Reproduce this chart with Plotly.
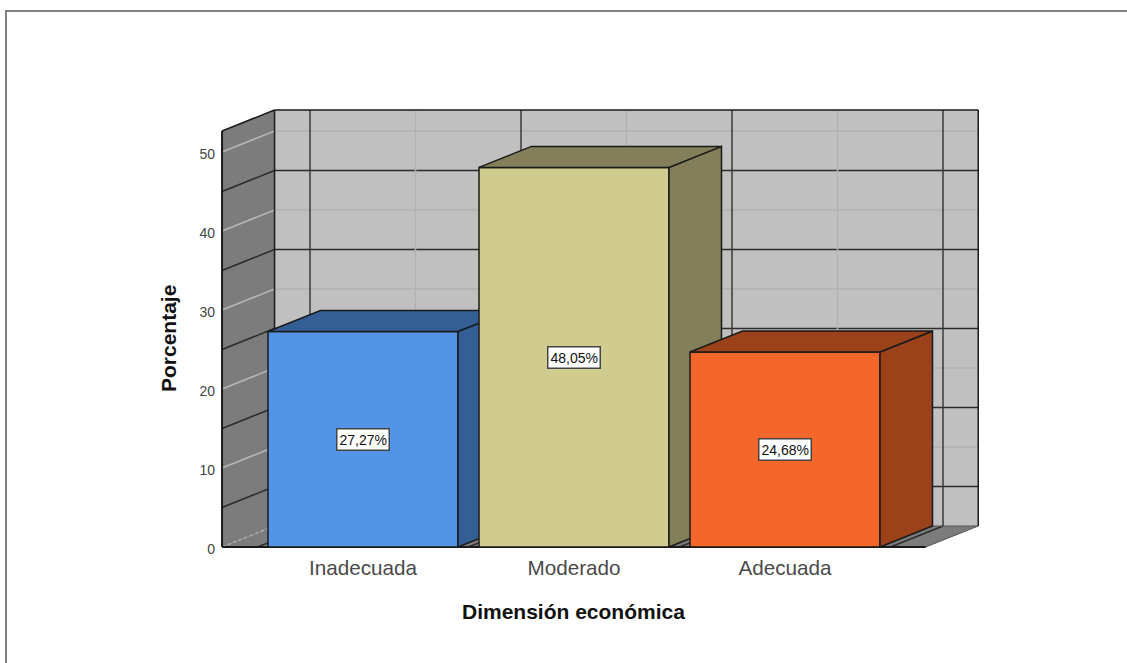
import plotly.graph_objects as go

categories = ["Inadecuada", "Moderado", "Adecuada"]
percentages = [27.27, 48.05, 24.68]
value_labels = ["27,27%", "48,05%", "24,68%"]
y_ticks = [0, 10, 20, 30, 40, 50]
front_colors = ["#5394E6", "#D0CB8F", "#F4672A"]
side_colors = ["#345F95", "#827F5A", "#9B421A"]

FONT = "Liberation Sans"
W, H = 1127, 663
L, R, T, B = 216, 984, 104, 553
X0_PX, X_UNIT = 363, 211
Y0_PX, Y_UNIT = 547, 7.9
DX, DY = 52.5 / X_UNIT, 21 / Y_UNIT
BAR_W = 190 / X_UNIT
X_MIN, X_MAX, Y_TOP = -0.668, 2.667, 52.66
DARK, EDGE = "#2b2b2b", "#1a1a1a"

xr = [(L - X0_PX) / X_UNIT, (R - X0_PX) / X_UNIT]
yr = [(Y0_PX - B) / Y_UNIT, (Y0_PX - T) / Y_UNIT]
shapes = []


def poly(xs, ys, fill):
    path = "M" + "L".join(f"{a},{b}" for a, b in zip(xs, ys)) + "Z"
    shapes.append(dict(type="path", path=path, xref="x", yref="y", fillcolor=fill,
                       line=dict(width=0), layer="below"))


def seg(x0, y0, x1, y1, color=DARK, width=1.5, dash="solid"):
    shapes.append(dict(type="line", x0=x0, y0=y0, x1=x1, y1=y1, xref="x", yref="y",
                       line=dict(color=color, width=width, dash=dash), layer="below"))


# walls and floor
poly([X_MIN + DX, X_MAX + DX, X_MAX + DX, X_MIN + DX], [DY, DY, Y_TOP + DY, Y_TOP + DY], "#C0C0C0")
poly([X_MIN, X_MIN + DX, X_MIN + DX, X_MIN], [0, DY, Y_TOP + DY, Y_TOP], "#7C7C7C")
poly([X_MIN, X_MAX, X_MAX + DX, X_MIN + DX], [0, 0, DY, DY], "#7C7C7C")

# value levels on the walls: light at the labelled ticks, dark half way between
for i in range(0, 11):
    v = i * 5
    major = i % 2 == 0
    back_col = "#B2B2B2" if major else DARK
    side_col = "#B8B8B8" if major else DARK
    if i > 0:
        seg(X_MIN + DX, v + DY, X_MAX + DX, v + DY, back_col, 1.5)
        seg(X_MIN, v, X_MIN + DX, v + DY, side_col, 1.5)
seg(X_MIN, 0, X_MIN + DX, DY, "#B8B8B8", 1.2, "dot")

# verticals on the back wall, continued over the floor
for c in range(3):
    seg(c + DX, DY, c + DX, Y_TOP + DY, "#B2B2B2", 1.5)
for c in range(4):
    b = c - 0.5
    seg(b + DX, DY, b + DX, Y_TOP + DY, "#3a3a3a", 1.5)
    seg(b, 0, b + DX, DY, DARK, 1.5)

# wall outlines
seg(X_MIN + DX, Y_TOP + DY, X_MAX + DX, Y_TOP + DY, EDGE, 1.5)
seg(X_MAX + DX, DY, X_MAX + DX, Y_TOP + DY, EDGE, 1.5)
seg(X_MIN + DX, DY, X_MIN + DX, Y_TOP + DY, EDGE, 1.5)
seg(X_MIN, 0, X_MIN, Y_TOP, EDGE, 2)
seg(X_MIN, Y_TOP, X_MIN + DX, Y_TOP + DY, EDGE, 1.5)
seg(X_MIN, 0, X_MAX, 0, EDGE, 2)
seg(X_MAX, 0, X_MAX + DX, DY, "#555555", 1)
seg(X_MIN + DX, DY, X_MAX + DX, DY, "#555555", 1)

# page frame
shapes.append(dict(type="line", xref="paper", yref="paper", x0=(6 - L) / (R - L), x1=(W - L) / (R - L),
                   y0=(B - 11) / (B - T), y1=(B - 11) / (B - T), line=dict(color="#808080", width=2)))
shapes.append(dict(type="line", xref="paper", yref="paper", x0=(6 - L) / (R - L), x1=(6 - L) / (R - L),
                   y0=(B - 10) / (B - T), y1=(B - H) / (B - T), line=dict(color="#808080", width=2)))

fig = go.Figure()
annotations = []
for i, (cat, v) in enumerate(zip(categories, percentages)):
    fig.add_trace(go.Bar(x=[i], y=[v], width=BAR_W, name=cat, zorder=i + 1,
                         marker=dict(color=front_colors[i], line=dict(color=EDGE, width=1.5))))
    lo, hi = i - BAR_W / 2, i + BAR_W / 2
    fig.add_trace(go.Scatter(x=[hi, hi + DX, hi + DX, hi, hi], y=[0, DY, v + DY, v, 0],
                             mode="lines", fill="toself", fillcolor=side_colors[i], zorder=i + 1,
                             line=dict(color=EDGE, width=1.5), hoverinfo="skip"))
    fig.add_trace(go.Scatter(x=[lo, lo + DX, hi + DX, hi, lo], y=[v, v + DY, v + DY, v, v],
                             mode="lines", fill="toself", fillcolor=side_colors[i], zorder=i + 1,
                             line=dict(color=EDGE, width=1.5), hoverinfo="skip"))
    annotations.append(dict(x=i, y=v / 2, xref="x", yref="y", text=value_labels[i], showarrow=False,
                            font=dict(family=FONT, size=14, color="#111111"), bgcolor="white",
                            bordercolor="#444444", borderwidth=1.5, borderpad=2))

# axis titles, placed where the reference has them
annotations.append(dict(x=(573.5 - L) / (R - L), y=(B - 611) / (B - T), xref="paper", yref="paper",
                        xanchor="center", yanchor="middle",
                        text="<b>Dimensión económica</b>", showarrow=False,
                        font=dict(family=FONT, size=21, color="#111111")))
annotations.append(dict(x=(168.5 - L) / (R - L), y=(B - 338.5) / (B - T), xref="paper", yref="paper",
                        xanchor="center", yanchor="middle",
                        text="<b>Porcentaje</b>", showarrow=False, textangle=-90,
                        font=dict(family=FONT, size=21, color="#111111")))

fig.update_layout(
    width=W, height=H, autosize=False, showlegend=False,
    paper_bgcolor="white", plot_bgcolor="white",
    margin=dict(l=L, r=W - R, t=T, b=H - B, pad=0),
    shapes=shapes, annotations=annotations, barmode="overlay",
    font=dict(family=FONT),
    xaxis=dict(range=xr, tickmode="array", tickvals=[0, 1, 2], ticktext=categories,
               showgrid=False, zeroline=False, showline=False, ticks="",
               tickfont=dict(family=FONT, size=20.7, color="#4a4a4a"), ticklabelstandoff=0),
    yaxis=dict(range=yr, tickmode="array", tickvals=y_ticks,
               showgrid=False, zeroline=False, showline=False, ticks="", ticklabelshift=2,
               tickfont=dict(family=FONT, size=14, color="#444444")),
)
fig.write_html("out.html", config=dict(displayModeBar=False),
               post_script="document.body.style.margin='0';document.body.style.overflow='hidden';")
